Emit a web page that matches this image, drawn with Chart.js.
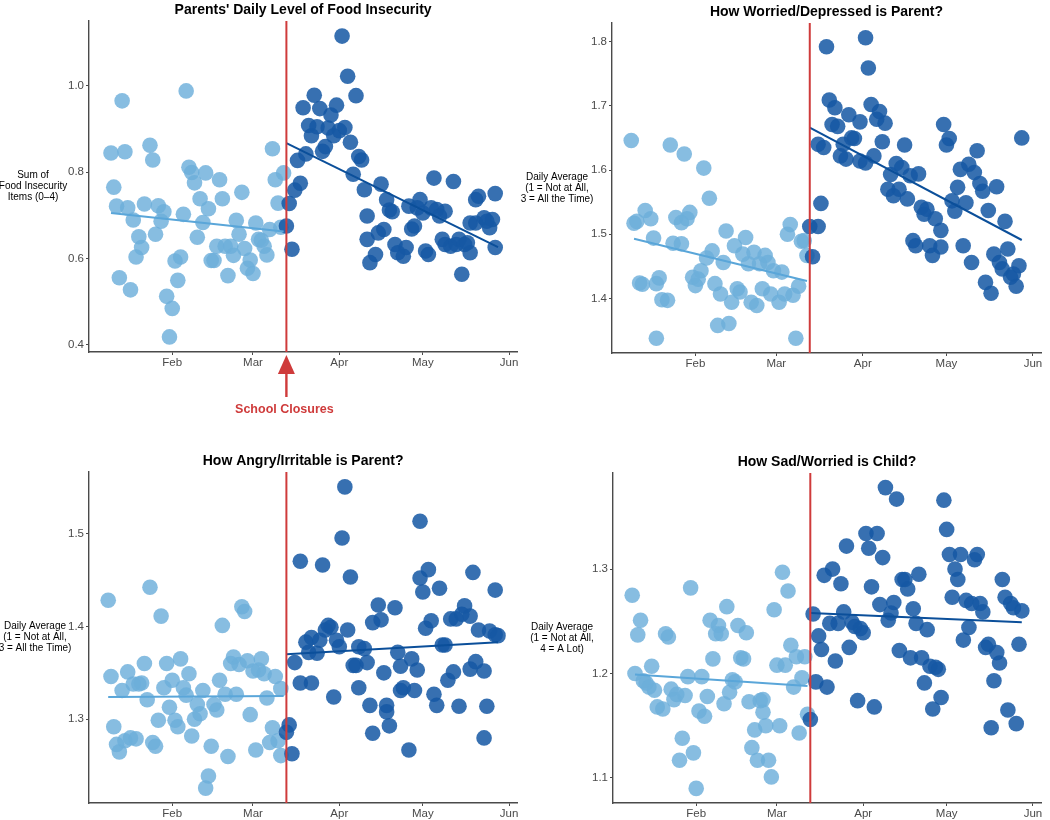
<!DOCTYPE html>
<html>
<head>
<meta charset="utf-8">
<script src="https://cdn.jsdelivr.net/npm/chart.js@4.4.1/dist/chart.umd.min.js"></script>
<style>
    html, body { margin: 0; padding: 0; background: #fff; }
    #page { position: relative; width: 1050px; height: 820px; overflow: hidden; }
    #page canvas { position: absolute; }
</style>
</head>
<body>
<div id="page">
    <canvas id="food" width="525" height="420" style="left:0;top:0"></canvas>
    <canvas id="worried" width="545" height="420" style="left:505px;top:0"></canvas>
    <canvas id="angry" width="525" height="375" style="left:0;top:445px"></canvas>
    <canvas id="child" width="545" height="375" style="left:505px;top:445px"></canvas>
</div>
<script>
// day numbers: Jan 1 = 0, so Feb 1 = 31 ... Jun 1 = 152 (2020)
const monthTicks = [31, 60, 91, 121, 152];
const monthLabels = ['Feb', 'Mar', 'Apr', 'May', 'Jun'];
const closureDay = 72;
const dayRange = [1.1, 154.9];

// Parents' daily level of food insecurity
const foodPre = [[9,0.844],[10,0.765],[11,0.721],[12,0.555],[13,0.965],[14,0.847],[15,0.717],[16,0.527],[17,0.689],[18,0.603],[19,0.650],[20,0.625],[21,0.726],[23,0.862],[24,0.828],[25,0.656],[26,0.722],[27,0.686],[28,0.708],[29,0.512],[30,0.418],[31,0.484],[32,0.594],[33,0.549],[34,0.603],[35,0.702],[36,0.988],[37,0.811],[38,0.799],[39,0.775],[40,0.649],[41,0.738],[42,0.683],[43,0.798],[44,0.715],[45,0.595],[46,0.595],[47,0.628],[48,0.782],[49,0.738],[50,0.628],[51,0.560],[52,0.628],[53,0.607],[54,0.688],[55,0.656],[56,0.753],[57,0.623],[58,0.577],[59,0.596],[60,0.565],[61,0.682],[62,0.644],[63,0.642],[64,0.628],[65,0.608],[66,0.667],[67,0.854],[68,0.782],[69,0.728],[70,0.672],[71,0.798]];
const foodPost = [[72,0.675],[73,0.727],[74,0.621],[75,0.758],[76,0.827],[77,0.774],[78,0.949],[79,0.842],[80,0.908],[81,0.884],[82,0.978],[83,0.905],[84,0.947],[85,0.848],[86,0.859],[87,0.902],[88,0.932],[89,0.884],[90,0.955],[91,0.896],[92,1.115],[93,0.903],[94,1.022],[95,0.869],[96,0.795],[97,0.977],[98,0.836],[99,0.828],[100,0.759],[101,0.644],[101,0.698],[102,0.590],[104,0.609],[105,0.659],[106,0.772],[107,0.667],[108,0.736],[109,0.712],[110,0.708],[111,0.632],[112,0.613],[114,0.605],[115,0.625],[116,0.721],[117,0.668],[118,0.675],[119,0.717],[120,0.736],[121,0.705],[122,0.617],[123,0.609],[124,0.717],[125,0.786],[126,0.713],[127,0.698],[128,0.644],[129,0.709],[129,0.632],[131,0.628],[132,0.778],[133,0.632],[134,0.644],[135,0.563],[136,0.632],[137,0.636],[138,0.613],[138,0.682],[140,0.682],[140,0.736],[141,0.744],[143,0.694],[144,0.686],[145,0.671],[146,0.690],[147,0.750],[147,0.625]];
const foodTrendPre = [[9,0.705],[71,0.662]];
const foodTrendPost = [[72,0.867],[148,0.626]];
const foodTicks = [0.4, 0.6, 0.8, 1.0];
const foodRange = [0.383, 1.150];

// How worried/depressed is parent?
const worriedPre = [[8,1.646],[9,1.517],[10,1.520],[11,1.424],[12,1.422],[13,1.537],[15,1.524],[16,1.494],[17,1.423],[17,1.338],[18,1.432],[19,1.398],[21,1.397],[22,1.639],[23,1.486],[24,1.526],[26,1.485],[26,1.518],[27,1.625],[28,1.524],[29,1.534],[30,1.433],[31,1.420],[32,1.430],[33,1.443],[34,1.603],[35,1.463],[36,1.556],[37,1.474],[38,1.423],[39,1.358],[40,1.407],[41,1.456],[42,1.505],[43,1.361],[44,1.394],[45,1.482],[46,1.415],[47,1.410],[48,1.469],[49,1.495],[50,1.454],[51,1.394],[52,1.472],[53,1.389],[54,1.454],[55,1.415],[56,1.467],[57,1.456],[58,1.407],[59,1.443],[61,1.394],[62,1.441],[63,1.407],[64,1.500],[65,1.515],[66,1.405],[67,1.338],[68,1.419],[69,1.489],[70,1.490],[71,1.467]];
const worriedPost = [[73,1.465],[72,1.512],[75,1.512],[76,1.548],[75,1.640],[77,1.635],[78,1.792],[79,1.709],[81,1.697],[80,1.671],[82,1.668],[84,1.640],[83,1.622],[85,1.617],[86,1.686],[87,1.650],[88,1.649],[90,1.614],[90,1.675],[92,1.611],[92,1.806],[93,1.759],[94,1.702],[95,1.622],[96,1.679],[97,1.691],[99,1.673],[98,1.644],[101,1.593],[100,1.570],[102,1.560],[103,1.610],[104,1.570],[105,1.604],[106,1.639],[107,1.555],[109,1.490],[110,1.482],[108,1.591],[111,1.594],[112,1.542],[113,1.531],[114,1.539],[115,1.482],[116,1.467],[117,1.524],[119,1.480],[119,1.506],[120,1.671],[121,1.639],[122,1.649],[123,1.552],[124,1.536],[125,1.573],[126,1.601],[127,1.482],[128,1.549],[129,1.609],[130,1.456],[131,1.596],[132,1.630],[133,1.579],[134,1.567],[135,1.425],[136,1.537],[137,1.408],[138,1.469],[139,1.574],[140,1.456],[141,1.446],[142,1.520],[143,1.477],[144,1.433],[145,1.438],[146,1.419],[147,1.451],[148,1.650]];
const worriedTrendPre = [[9,1.493],[71,1.427]];
const worriedTrendPost = [[72,1.666],[148,1.491]];
const worriedTicks = [1.4, 1.5, 1.6, 1.7, 1.8];
const worriedRange = [1.315, 1.829];

// How angry/irritable is parent?
const angryPre = [[8,1.428],[9,1.346],[10,1.292],[11,1.273],[12,1.265],[13,1.331],[15,1.351],[14,1.277],[16,1.280],[18,1.279],[17,1.338],[19,1.338],[20,1.339],[21,1.360],[22,1.321],[23,1.442],[24,1.275],[25,1.271],[26,1.299],[27,1.411],[28,1.334],[29,1.360],[30,1.313],[31,1.342],[32,1.299],[33,1.292],[34,1.365],[35,1.334],[36,1.326],[37,1.349],[38,1.282],[39,1.300],[40,1.316],[41,1.306],[42,1.331],[43,1.226],[44,1.239],[45,1.271],[46,1.316],[47,1.310],[48,1.342],[49,1.401],[50,1.327],[51,1.260],[52,1.360],[53,1.367],[54,1.327],[55,1.359],[56,1.421],[57,1.416],[58,1.363],[59,1.305],[60,1.352],[61,1.267],[62,1.353],[63,1.365],[64,1.349],[65,1.323],[66,1.275],[67,1.291],[68,1.346],[69,1.277],[70,1.333],[70,1.261]];
const angryPost = [[73,1.294],[72,1.286],[74,1.263],[75,1.361],[77,1.339],[77,1.470],[79,1.383],[80,1.372],[81,1.339],[81,1.388],[83,1.371],[84,1.385],[85,1.466],[86,1.396],[87,1.401],[88,1.399],[89,1.324],[90,1.385],[91,1.378],[92,1.495],[93,1.550],[94,1.396],[95,1.453],[96,1.358],[97,1.358],[98,1.334],[98,1.378],[100,1.376],[101,1.361],[102,1.315],[103,1.404],[103,1.285],[105,1.423],[106,1.407],[107,1.350],[108,1.315],[108,1.308],[109,1.293],[111,1.420],[112,1.372],[113,1.331],[113,1.357],[114,1.334],[116,1.267],[117,1.365],[118,1.331],[119,1.353],[120,1.452],[120,1.513],[121,1.437],[122,1.398],[123,1.461],[124,1.406],[125,1.327],[126,1.315],[127,1.441],[128,1.380],[129,1.380],[130,1.342],[131,1.408],[132,1.351],[133,1.408],[134,1.314],[135,1.413],[136,1.422],[138,1.411],[138,1.354],[139,1.458],[140,1.362],[141,1.396],[143,1.352],[143,1.280],[144,1.314],[145,1.395],[147,1.439],[147,1.391],[148,1.390]];
const angryTrendPre = [[8,1.324],[71,1.325]];
const angryTrendPost = [[72,1.370],[148,1.383]];
const angryTicks = [1.3, 1.4, 1.5];
const angryRange = [1.210, 1.566];

// How sad/worried is child?
const childPre = [[8,1.275],[9,1.200],[11,1.251],[10,1.237],[12,1.193],[13,1.191],[15,1.207],[14,1.187],[16,1.184],[17,1.168],[19,1.166],[20,1.238],[21,1.235],[22,1.185],[23,1.175],[24,1.180],[25,1.117],[26,1.138],[27,1.179],[28,1.197],[29,1.282],[30,1.124],[31,1.090],[32,1.164],[33,1.197],[34,1.159],[35,1.178],[36,1.251],[37,1.214],[38,1.238],[39,1.246],[40,1.238],[41,1.171],[42,1.264],[43,1.182],[44,1.194],[45,1.192],[46,1.246],[47,1.215],[48,1.214],[49,1.239],[50,1.173],[51,1.129],[52,1.146],[53,1.117],[54,1.174],[55,1.163],[55,1.175],[56,1.150],[57,1.117],[58,1.101],[59,1.261],[60,1.208],[61,1.150],[62,1.297],[63,1.208],[64,1.279],[65,1.227],[66,1.187],[67,1.216],[68,1.143],[69,1.196],[70,1.216],[71,1.161]];
const childPost = [[73,1.257],[72,1.156],[74,1.192],[75,1.236],[76,1.223],[77,1.294],[78,1.187],[79,1.248],[80,1.300],[81,1.212],[82,1.248],[83,1.286],[84,1.259],[85,1.322],[86,1.225],[87,1.249],[88,1.245],[89,1.174],[90,1.243],[91,1.239],[92,1.334],[93,1.320],[94,1.283],[95,1.168],[96,1.334],[97,1.266],[98,1.311],[99,1.378],[100,1.251],[101,1.258],[102,1.268],[103,1.367],[104,1.222],[105,1.290],[106,1.290],[107,1.281],[108,1.215],[109,1.262],[110,1.248],[111,1.295],[112,1.215],[113,1.191],[114,1.242],[115,1.207],[116,1.166],[117,1.206],[118,1.204],[119,1.177],[120,1.366],[121,1.338],[122,1.314],[123,1.273],[124,1.300],[125,1.290],[126,1.314],[127,1.232],[128,1.270],[129,1.244],[130,1.267],[131,1.309],[132,1.314],[133,1.267],[134,1.259],[135,1.225],[136,1.228],[137,1.148],[138,1.193],[139,1.220],[140,1.210],[141,1.290],[142,1.273],[143,1.165],[144,1.267],[145,1.263],[146,1.152],[147,1.228],[148,1.260]];
const childTrendPre = [[9,1.199],[71,1.188]];
const childTrendPost = [[72,1.258],[148,1.249]];
const childTicks = [1.1, 1.2, 1.3];
const childRange = [1.076, 1.392];

(function () {
    const FONT = '"Liberation Sans", Arial, Helvetica, sans-serif';
    const lightDot = 'rgba(108, 174, 218, 0.82)';
    const darkDot = 'rgba(22, 88, 164, 0.86)';
    const lightLine = '#5aa6d9';
    const darkLine = '#0b4f9a';
    const red = '#cf3b3b';
    const axisGrey = '#4a4a4a';

    const toPoints = (rows) => rows.map(([x, y]) => ({ x, y }));

    const panelDecor = {
        id: 'panelDecor',
        afterDatasetsDraw(chart) {
            const { ctx, chartArea } = chart;
            const lineX = chart.scales.x.getPixelForValue(closureDay);
            ctx.save();
            ctx.strokeStyle = red;
            ctx.lineWidth = 2;
            ctx.beginPath();
            ctx.moveTo(lineX, chartArea.top);
            ctx.lineTo(lineX, chartArea.bottom);
            ctx.stroke();
            ctx.restore();
        },
        afterDraw(chart, args, opts) {
            const { ctx, chartArea } = chart;
            ctx.save();
            ctx.fillStyle = '#000';
            ctx.textAlign = 'center';
            ctx.textBaseline = 'middle';
            ctx.font = 'bold 14px ' + FONT;
            ctx.fillText(opts.title, (chartArea.left + chartArea.right) / 2, chartArea.top - 11);

            // horizontal y-axis label, left of the tick labels
            ctx.font = '10px ' + FONT;
            const midY = (chartArea.top + chartArea.bottom) / 2;
            const lh = 11.2;
            opts.yLabel.forEach((line, i) => {
                const y = midY + (i - (opts.yLabel.length - 1) / 2) * lh;
                ctx.fillText(line, chartArea.left + opts.labelOffset, y);
            });

            if (opts.arrow) {
                const x = chart.scales.x.getPixelForValue(closureDay);
                const tip = chartArea.bottom + 3;
                ctx.fillStyle = red;
                ctx.beginPath();
                ctx.moveTo(x, tip);
                ctx.lineTo(x + 8.5, tip + 19);
                ctx.lineTo(x - 8.5, tip + 19);
                ctx.closePath();
                ctx.fill();
                ctx.fillRect(x - 1.2, tip + 18, 2.4, 24);
                ctx.font = 'bold 12.5px ' + FONT;
                ctx.fillText('School Closures', x - 2, tip + 55);
            }
            ctx.restore();
        },
    };

    const makePanel = (id, cfg) => {
        const el = document.getElementById(id);
        new Chart(el, {
            type: 'scatter',
            data: {
                datasets: [
                    { type: 'line', data: toPoints(cfg.trendPost), borderColor: darkLine, borderWidth: 2, pointRadius: 0, order: 0 },
                    { type: 'line', data: toPoints(cfg.trendPre), borderColor: lightLine, borderWidth: 2, pointRadius: 0, order: 1 },
                    { data: toPoints(cfg.post), backgroundColor: darkDot, borderWidth: 0, pointRadius: 7.8, order: 2 },
                    { data: toPoints(cfg.pre), backgroundColor: lightDot, borderWidth: 0, pointRadius: 7.8, order: 3 },
                ],
            },
            options: {
                responsive: false,
                animation: false,
                devicePixelRatio: 1,
                layout: { padding: { left: 0, right: cfg.padRight, top: cfg.padTop, bottom: 0 } },
                plugins: {
                    legend: { display: false },
                    tooltip: { enabled: false },
                    panelDecor: { title: cfg.title, yLabel: cfg.yLabel, labelOffset: cfg.labelOffset, arrow: !!cfg.arrow },
                },
                scales: {
                    x: {
                        type: 'linear',
                        min: dayRange[0],
                        max: dayRange[1],
                        afterBuildTicks: (scale) => { scale.ticks = monthTicks.map((v) => ({ value: v })); },
                        afterFit: (scale) => { scale.height = cfg.xHeight; },
                        ticks: {
                            autoSkip: false,
                            maxRotation: 0,
                            padding: 1,
                            color: axisGrey,
                            font: { family: FONT, size: 11.5 },
                            callback: (v) => monthLabels[monthTicks.indexOf(v)],
                        },
                        grid: { drawOnChartArea: false, drawTicks: true, tickLength: 3, color: axisGrey },
                        border: { display: true, color: axisGrey, width: 1.4 },
                    },
                    y: {
                        type: 'linear',
                        min: cfg.range[0],
                        max: cfg.range[1],
                        afterBuildTicks: (scale) => { scale.ticks = cfg.ticks.map((v) => ({ value: v })); },
                        afterFit: (scale) => { scale.width = cfg.yWidth; },
                        ticks: {
                            padding: 2,
                            color: axisGrey,
                            font: { family: FONT, size: 11.5 },
                            callback: (v) => Number(v).toFixed(1),
                        },
                        grid: { drawOnChartArea: false, drawTicks: true, tickLength: 3, color: axisGrey },
                        border: { display: true, color: axisGrey, width: 1.4 },
                    },
                },
            },
            plugins: [panelDecor],
        });
    };

    makePanel('food', {
        title: "Parents' Daily Level of Food Insecurity",
        yLabel: ['Sum of', 'Food Insecurity', 'Items (0\u20134)'],
        pre: foodPre, post: foodPost, trendPre: foodTrendPre, trendPost: foodTrendPost,
        ticks: foodTicks, range: foodRange,
        yWidth: 89, padRight: 6, padTop: 21, xHeight: 68, labelOffset: -56, arrow: true,
    });
    makePanel('worried', {
        title: 'How Worried/Depressed is Parent?',
        yLabel: ['Daily Average', '(1 = Not at All,', '3 = All the Time)'],
        pre: worriedPre, post: worriedPost, trendPre: worriedTrendPre, trendPost: worriedTrendPost,
        ticks: worriedTicks, range: worriedRange,
        yWidth: 107, padRight: 9, padTop: 23, xHeight: 67, labelOffset: -55,
    });
    makePanel('angry', {
        title: 'How Angry/Irritable is Parent?',
        yLabel: ['Daily Average', '(1 = Not at All,', '3 = All the Time)'],
        pre: angryPre, post: angryPost, trendPre: angryTrendPre, trendPost: angryTrendPost,
        ticks: angryTicks, range: angryRange,
        yWidth: 89, padRight: 6, padTop: 27, xHeight: 17, labelOffset: -54,
    });
    makePanel('child', {
        title: 'How Sad/Worried is Child?',
        yLabel: ['Daily Average', '(1 = Not at All,', '4 = A Lot)'],
        pre: childPre, post: childPost, trendPre: childTrendPre, trendPost: childTrendPost,
        ticks: childTicks, range: childRange,
        yWidth: 108, padRight: 9, padTop: 28, xHeight: 17, labelOffset: -51,
    });
})();
</script>
</body>
</html>
